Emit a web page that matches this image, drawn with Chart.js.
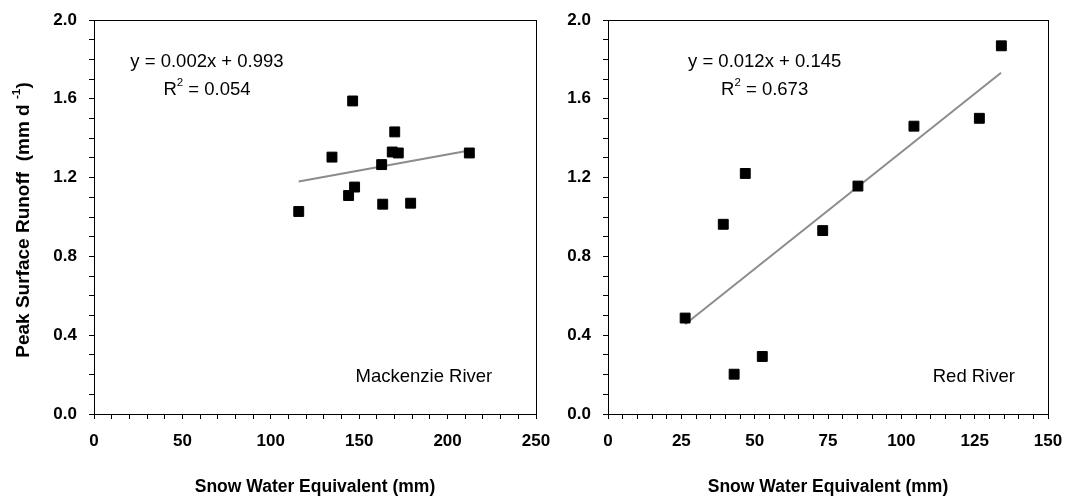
<!DOCTYPE html>
<html>
<head>
<meta charset="utf-8">
<script src="https://cdn.jsdelivr.net/npm/chart.js@4.4.1/dist/chart.umd.min.js"></script>
<style>
  body { margin: 0; background: #fff; width: 1067px; height: 500px; overflow: hidden; position: relative; }
  canvas { position: absolute; top: 0; }
  #c1 { left: 0; }
  #c2 { left: 550px; }
</style>
</head>
<body>
<canvas id="c1" width="550" height="500"></canvas>
<canvas id="c2" width="517" height="500"></canvas>
<script>
// Mackenzie River
const macSwe = [115.8, 134.6, 146.3, 144.0, 147.4, 162.7, 163.3, 168.7, 172.1, 170.1, 179.1, 212.3];
const macRunoff = [1.028, 1.304, 1.589, 1.109, 1.152, 1.266, 1.065, 1.330, 1.325, 1.432, 1.070, 1.325];
const macTrendX = [115.8, 212.3];
const macTrendY = [1.18, 1.338];
const macXTicks = [0, 50, 100, 150, 200, 250];

// Red River
const redSwe = [26.3, 39.3, 43.0, 46.8, 52.6, 73.2, 85.2, 104.3, 126.6, 134.1];
const redRunoff = [0.487, 0.963, 0.202, 1.221, 0.292, 0.931, 1.157, 1.461, 1.501, 1.869];
const redTrendX = [26.3, 134.0];
const redTrendY = [0.456, 1.732];
const redXTicks = [0, 25, 50, 75, 100, 125, 150];

const yTicks = [0, 0.4, 0.8, 1.2, 1.6, 2.0];

const FONT = "'Liberation Sans', Arial, Helvetica, sans-serif";

function isLabel(v, list) {
  return list.some(t => Math.abs(t - v) < 1e-6);
}

// draws a string made of pieces, some of them superscript
function drawParts(ctx, parts, x, y, size, bold, align) {
  const w = bold ? "bold " : "";
  let total = 0;
  parts.forEach(p => {
    ctx.font = w + (p.sup ? size * 0.62 : size) + "px " + FONT;
    p.w = ctx.measureText(p.t).width;
    total += p.w;
  });
  let cx = x;
  if (align === "center") cx = x - total / 2;
  if (align === "right") cx = x - total;
  ctx.textAlign = "left";
  ctx.textBaseline = "middle";
  ctx.fillStyle = "#000";
  parts.forEach(p => {
    ctx.font = w + (p.sup ? size * 0.62 : size) + "px " + FONT;
    ctx.fillText(p.t, cx, p.sup ? y - size * 0.38 : y);
    cx += p.w;
  });
}

function makeChart(id, cfg) {
  const texts = {
    id: "texts",
    afterDraw(chart) {
      const ctx = chart.ctx;
      const a = chart.chartArea;
      const xs = chart.scales.x, ys = chart.scales.y;
      ctx.save();
      ctx.strokeStyle = "#000";
      ctx.lineWidth = 1;
      ctx.strokeRect(a.left + 0.5, a.top + 0.5, a.right - a.left, a.bottom - a.top);

      drawParts(ctx, [{t: cfg.eq}], xs.getPixelForValue(cfg.eqX), ys.getPixelForValue(1.787), 18.5, false, "center");
      drawParts(ctx, [{t: "R"}, {t: "2", sup: true}, {t: " = " + cfg.r2}], xs.getPixelForValue(cfg.eqX), ys.getPixelForValue(1.645), 18.5, false, "center");
      drawParts(ctx, [{t: cfg.river}], xs.getPixelForValue(cfg.riverX), ys.getPixelForValue(0.19), 18.5, false, cfg.riverAlign);

      drawParts(ctx, [{t: "Snow Water Equivalent (mm)"}], (a.left + a.right) / 2, 487, 17.5, true, "center");

      if (cfg.yTitle) {
        ctx.translate(24, 220);
        ctx.rotate(-Math.PI / 2);
        drawParts(ctx, [{t: "Peak Surface Runoff  (mm d "}, {t: "-1", sup: true}, {t: ")"}], 0, 0, 19, true, "center");
      }
      ctx.restore();
    }
  };

  return new Chart(document.getElementById(id), {
    type: "scatter",
    data: {
      datasets: [{
        data: cfg.xs.map((x, i) => ({x: x, y: cfg.ys[i]})),
        pointStyle: "rect",
        pointRadius: 7,
        pointBackgroundColor: "#000",
        pointBorderColor: "#000",
        pointBorderWidth: 1
      }, {
        data: cfg.tx.map((x, i) => ({x: x, y: cfg.ty[i]})),
        showLine: true,
        pointRadius: 0,
        borderColor: "#8c8c8c",
        borderWidth: 2
      }]
    },
    options: {
      responsive: false,
      animation: false,
      devicePixelRatio: 1,
      layout: { padding: { top: 20, right: cfg.padRight, left: 0, bottom: 0 } },
      plugins: { legend: { display: false }, tooltip: { enabled: false } },
      scales: {
        x: {
          type: "linear",
          min: 0, max: cfg.xMax,
          afterFit: s => { s.height = 86; s.paddingLeft = 0; s.paddingRight = 0; },
          border: { display: true, color: "#000", width: 1 },
          grid: { drawOnChartArea: false, drawTicks: true, tickLength: 5, color: "#000" },
          ticks: {
            stepSize: cfg.xStep, autoSkip: false, maxRotation: 0, maxTicksLimit: 100,
            padding: 12, color: "#000",
            font: { family: FONT, size: 17, weight: "bold" },
            callback: v => isLabel(v, cfg.xLabels) ? String(Math.round(v)) : ""
          }
        },
        y: {
          type: "linear",
          min: 0, max: 2,
          afterFit: s => { s.width = cfg.yWidth; s.paddingTop = 0; s.paddingBottom = 0; },
          border: { display: true, color: "#000", width: 1 },
          grid: { drawOnChartArea: false, drawTicks: true, tickLength: 5, color: "#000" },
          ticks: {
            stepSize: 0.1, autoSkip: false, maxTicksLimit: 100,
            padding: 12, color: "#000",
            font: { family: FONT, size: 17, weight: "bold" },
            callback: v => isLabel(v, yTicks) ? v.toFixed(1) : ""
          }
        }
      }
    },
    plugins: [texts]
  });
}

makeChart("c1", {
  xs: macSwe, ys: macRunoff, tx: macTrendX, ty: macTrendY,
  xMax: 250, xStep: 10, xLabels: macXTicks,
  yWidth: 94, padRight: 14,
  eq: "y = 0.002x + 0.993", r2: "0.054", eqX: 63.9,
  river: "Mackenzie River", riverX: 186.6, riverAlign: "center",
  yTitle: true
});

makeChart("c2", {
  xs: redSwe, ys: redRunoff, tx: redTrendX, ty: redTrendY,
  xMax: 150, xStep: 5, xLabels: redXTicks,
  yWidth: 58, padRight: 19,
  eq: "y = 0.012x + 0.145", r2: "0.673", eqX: 53.4,
  river: "Red River", riverX: 138.75, riverAlign: "right",
  yTitle: false
});
</script>
</body>
</html>
